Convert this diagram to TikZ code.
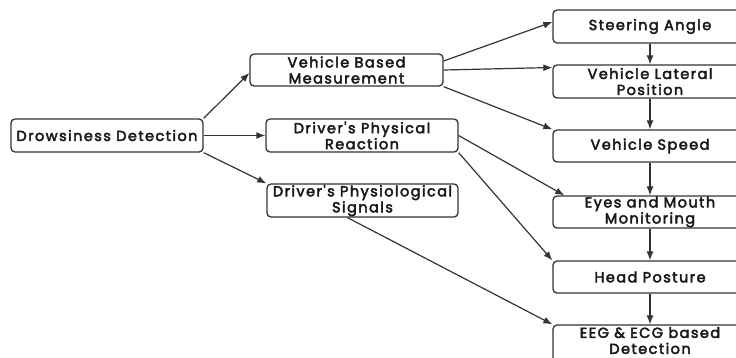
\documentclass[tikz,border=0pt]{standalone}
\usepackage{fontspec}
\newfontfamily\boxfont{Poppins}[LetterSpace=10,FakeBold=3]
\usetikzlibrary{arrows.meta}
\begin{document}
\begin{tikzpicture}[x=1pt,y=-1pt,
  box/.style={draw=black!80,line width=1.3pt,rounded corners=4pt,fill=white,
    align=center,inner sep=0pt,font=\boxfont\fontsize{14.5}{16}\selectfont,text=black!90},
  conn/.style={draw=black!80,line width=1.2pt,-{Latex[length=9pt,width=7pt]}}]
\useasboundingbox (0,0) rectangle (736,357);
\begin{scope}
\clip (0,0) rectangle (736,357);
\node[box,minimum width=192pt,minimum height=33pt] (dd) at (107,135.5) {Drowsiness Detection};
\node[box,minimum width=193pt,minimum height=32pt] (vbm) at (346.5,70) {Vehicle Based\\Measurement};
\node[box,minimum width=192pt,minimum height=33pt] (dpr) at (362,135.5) {Driver's Physical\\Reaction};
\node[box,minimum width=191pt,minimum height=33pt] (dps) at (362.5,200.5) {Driver's Physiological\\Signals};
\node[box,minimum width=194pt,minimum height=33pt] (sa) at (650,26.5) {Steering Angle};
\node[box,minimum width=194pt,minimum height=33pt] (vlp) at (650,81.5) {Vehicle Lateral\\Position};
\node[box,minimum width=194pt,minimum height=32pt] (vs) at (650,146) {Vehicle Speed};
\node[box,minimum width=194pt,minimum height=32pt] (em) at (650,212) {Eyes and Mouth\\Monitoring};
\node[box,minimum width=194pt,minimum height=32pt] (hp) at (650,277) {Head Posture};
\node[box,minimum width=194pt,minimum height=37pt] (eeg) at (650,343.5) {EEG \& ECG based\\Detection\\[-10pt]\mbox{}};
\end{scope}
\draw[conn] (dd.north east) -- ([yshift=-3pt]vbm.west);
\draw[conn] (dd.east) -- (dpr.west);
\draw[conn] (dd.south east) -- (dps.north west);
\draw[conn] ([yshift=9pt]vbm.east) -- ([yshift=4.5pt]sa.west);
\draw[conn] (vbm.east) -- ([yshift=14pt]vlp.west);
\draw[conn] (vbm.south east) -- (vs.north west);
\draw[conn] (dpr.east) -- ([xshift=12pt]em.north west);
\draw[conn] (dpr.south east) -- (hp.north west);
\draw[conn] ([xshift=-15pt]dps.south) -- (eeg.north west);
\draw[conn] (sa.south) -- (vlp.north);
\draw[conn] (vlp.south) -- (vs.north);
\draw[conn] (vs.south) -- (em.north);
\draw[conn] (em.south) -- (hp.north);
\draw[conn] (hp.south) -- (eeg.north);
\end{tikzpicture}
\end{document}
